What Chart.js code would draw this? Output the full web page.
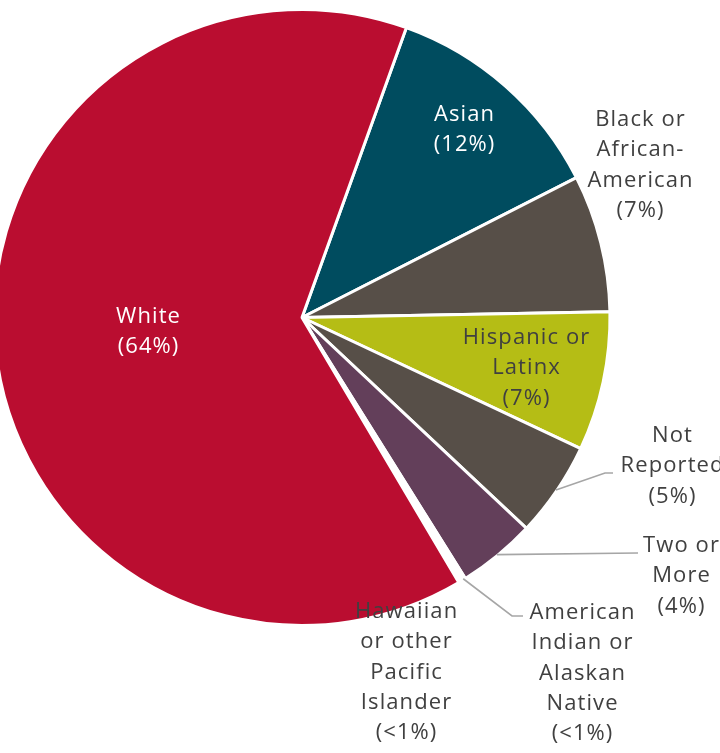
<!DOCTYPE html>
<html><head><meta charset="utf-8">
<script src="https://cdn.jsdelivr.net/npm/chart.js@4"></script>
<style>
html,body{margin:0;padding:0;background:#fff;overflow:hidden;}
#wrap{position:absolute;left:-8px;top:0;width:728px;height:753px;}
</style></head><body>
<div id="wrap"><canvas id="c"></canvas></div>
<script>
const categories = ['Asian','Black or African-American','Hispanic or Latinx','Not Reported','Two or More','American Indian or Alaskan Native','Hawaiian or other Pacific Islander','White'];
const values = [12.0, 7.2, 7.3, 5.0, 4.1, 0.2, 0.2, 64.0];
const valueLabels = ['(12%)','(7%)','(7%)','(5%)','(4%)','(<1%)','(<1%)','(64%)'];
const labelLines = [
  ['Asian'],
  ['Black or','African-','American'],
  ['Hispanic or','Latinx'],
  ['Not','Reported'],
  ['Two or','More'],
  ['American','Indian or','Alaskan','Native'],
  ['Hawaiian','or other','Pacific','Islander'],
  ['White']
];
const colors = ['#004C5F','#574F48','#B5BD15','#574F48','#633F5A','#ffffff','#ffffff','#BA0D30'];

// label layout (page coords, top line center)
const labelStyle = [
  {x:464,y:115,color:'#ffffff'},
  {x:640,y:120,color:'#404040'},
  {x:526,y:338,color:'#404040'},
  {x:672,y:436,color:'#404040',elbow:[605,473],end:[613,473]},
  {x:681,y:546,color:'#404040',elbow:[638,553],end:[638,553]},
  {x:582,y:613,color:'#404040',elbow:[512,616],end:[523,616]},
  {x:406,y:612,color:'#404040'},
  {x:148,y:317,color:'#ffffff'}
];
const OFFX = 8;
const lineH = 30.2;
const SPACING = 1.1;

const labelPlugin = {
  id:'labels',
  afterDatasetsDraw(chart){
    const ctx = chart.ctx;
    const meta = chart.getDatasetMeta(0);
    ctx.save();
    ctx.translate(OFFX,0);
    meta.data.forEach((arc,i)=>{
      const st = labelStyle[i];
      if(st.elbow){
        const p = arc.getProps(['x','y','startAngle','endAngle','outerRadius'],true);
        const mid = (p.startAngle+p.endAngle)/2;
        const sx = p.x + Math.cos(mid)*(p.outerRadius-1) - OFFX;
        const sy = p.y + Math.sin(mid)*(p.outerRadius-1);
        ctx.strokeStyle='#A6A6A6';
        ctx.lineWidth=1.6;
        ctx.beginPath();
        ctx.moveTo(sx,sy);
        ctx.lineTo(st.elbow[0],st.elbow[1]);
        ctx.lineTo(st.end[0],st.end[1]);
        ctx.stroke();
      }
      const lines = labelLines[i].concat([valueLabels[i]]);
      ctx.fillStyle = st.color;
      ctx.font = '22px "Open Sans", sans-serif';
      ctx.letterSpacing = SPACING + 'px';
      ctx.textAlign='center';
      ctx.textBaseline='middle';
      lines.forEach((t,k)=>ctx.fillText(t, st.x + SPACING/2, st.y + k*lineH));
    });
    ctx.restore();
  }
};

new Chart(document.getElementById('c'),{
  type:'pie',
  data:{labels:categories,datasets:[{data:values,backgroundColor:colors,borderColor:'#ffffff',borderWidth:3}]},
  options:{
    responsive:true,maintainAspectRatio:false,animation:false,
    rotation:19.8,
    layout:{padding:{left:0,top:8,right:108,bottom:126}},
    plugins:{legend:{display:false},tooltip:{enabled:false}}
  },
  plugins:[labelPlugin]
});
</script>
</body></html>
